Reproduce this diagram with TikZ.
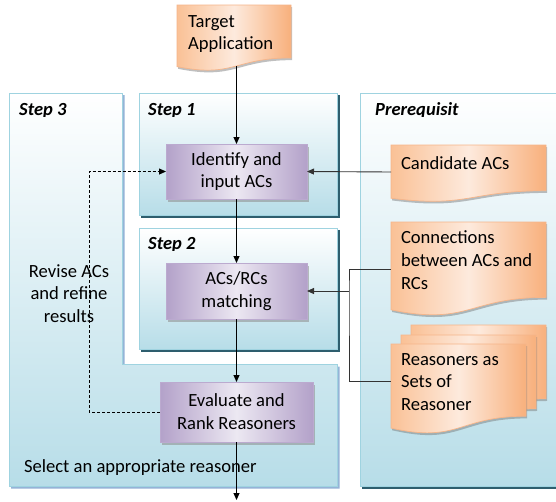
\documentclass[tikz,border=0pt]{standalone}
\usepackage{fontspec}
\setmainfont{Carlito}
\usetikzlibrary{arrows.meta,shadows}
\definecolor{pblue}{HTML}{B7DDE8}
\definecolor{pbord}{HTML}{9FD3E0}
\definecolor{tealdark}{HTML}{2E5E6E}
\definecolor{s3shadow}{HTML}{95B3D7}
\definecolor{purpdark}{HTML}{B3A1C9}
\definecolor{purplight}{HTML}{ECE8F2}
\definecolor{purpbord}{HTML}{BBAACF}
\definecolor{ordark}{HTML}{F8B07C}
\definecolor{ordarkb}{HTML}{FAC196}
\definecolor{orlight}{HTML}{FDEADD}
\definecolor{orbord}{HTML}{F6B58A}
\newcommand\mydoc[5][]{%
  \pgfmathsetmacro\dxa{#2+#4}\pgfmathsetmacro\dxm{#2+0.5*#4}%
  \pgfmathsetmacro\dya{#3+0.802*#5}\pgfmathsetmacro\dyb{#3+1.1075*#5}%
  \pgfmathsetmacro\dyc{#3+0.934*#5}%
  \path[#1] (#2,#3) -- (\dxa,#3) -- (\dxa,\dya) .. controls (\dxm,\dya) and (\dxm,\dyb) .. (#2,\dyc) -- cycle;}
\tikzset{
  txt/.style={font=\fontsize{18.6}{22.8}\selectfont, inner sep=0pt, outer sep=0pt},
  lbl/.style={font=\fontsize{18.5}{22}\selectfont\bfseries\itshape, inner sep=0pt, anchor=base west},
  proc/.style={txt, align=center, draw=purpbord, line width=0.8pt, shading angle=45,
    left color=purpdark, right color=purpdark, middle color=purplight,
    drop shadow={shadow xshift=2pt, shadow yshift=-2.5pt, fill=black!45, opacity=0.55}},
  docfill/.style={draw=orbord, line width=0.7pt, shading angle=45,
    left color=ordarkb, right color=ordark, middle color=orlight},
  docshadow/.style={fill=black!55, opacity=0.45, shift={(1.2,2.2)}},
  ghost/.style={inner sep=0pt, outer sep=0pt, minimum width=#1, anchor=north west},
  panel/.style={top color=white, bottom color=pblue, draw=pbord, line width=0.8pt},
  arr/.style={-{Triangle[length=7pt,width=6pt]}, line width=0.9pt},
  conn/.style={line width=0.9pt, draw=black!80}
}
\begin{document}
\begin{tikzpicture}[x=1pt,y=-1pt]
\fill[white] (0,0) rectangle (556,501);
\useasboundingbox (0,0) rectangle (556,501);

% ---------- panels ----------
\fill[s3shadow] (11,95) -- (124.5,95) -- (124.5,366.5) -- (339.5,366.5) -- (339.5,488.5) -- (11,488.5) -- cycle;
\shadedraw[panel] (9,93) -- (122,93) -- (122,364) -- (337,364) -- (337,486) -- (9,486) -- cycle;

\fill[tealdark] (141,95) rectangle (339.5,217.5);
\shadedraw[panel] (139,93) rectangle (337,215);
\fill[tealdark] (141,230) rectangle (339.5,351.5);
\shadedraw[panel] (139,228) rectangle (337,349);
\fill[tealdark] (362,95) rectangle (560,488.5);
\shadedraw[panel] (360,93) rectangle (560,486);

\begin{scope}
  \clip (0,93) rectangle (556,116.3);
  \node[lbl] (l3) at (19,115) {Step 3};
  \node[lbl] (l1) at (148,115) {Step 1};
  \node[lbl] (lp) at (375,115) {Prerequisit};
\end{scope}
\begin{scope}
  \clip (0,228) rectangle (556,250.8);
  \node[lbl] (l2) at (148,249.5) {Step 2};
\end{scope}

% ---------- documents ----------
\mydoc[docshadow]{177}{5}{114}{66}
\mydoc[docfill]{177}{5}{114}{66}
\node[txt, align=left, anchor=west] (ttgt) at (188,34) {Target\\Application};
\coordinate (tgt) at (236.5,66);

\mydoc[docshadow]{391}{145}{155}{57}
\mydoc[docfill]{391}{145}{155}{57}
\node[txt, anchor=west] (tcand) at (401,163) {Candidate ACs};
\node[ghost=155, minimum height=54] (cand) at (391,145) {};

\mydoc[docshadow]{391}{222}{155}{94}
\mydoc[docfill]{391}{222}{155}{94}
\node[txt, align=left, anchor=west] (tconn) at (401,260) {Connections\\between ACs and\\RCs};
\node[ghost=155, minimum height=94] (conn) at (391,222) {};

\mydoc[docshadow]{411}{325}{135}{92}
\mydoc[docfill]{411}{325}{135}{92}
\mydoc[docshadow]{401}{335}{135}{92}
\mydoc[docfill]{401}{335}{135}{92}
\mydoc[docshadow]{391}{344}{135}{90}
\mydoc[docfill]{391}{344}{135}{90}
\node[txt, align=left, anchor=west] (treas) at (401,382) {Reasoners as\\Sets of\\Reasoner};
\node[ghost=135, minimum height=74] (reas) at (391,344) {};

% ---------- process boxes ----------
\node[proc, minimum width=141, minimum height=55] (ident) at (236.5,171.5) {Identify and\\input ACs};
\node[proc, minimum width=141, minimum height=56] (match) at (236.5,291) {ACs/RCs\\matching};
\node[proc, minimum width=153, minimum height=60] (eval) at (236.5,412) {Evaluate and\\Rank Reasoners};

% ---------- texts ----------
\node[txt, align=center] (trev) at (69,293.5) {Revise ACs\\and refine\\results};
\node[txt, anchor=base west] (tsel) at (24,472) {Select an appropriate reasoner};

% ---------- connectors ----------
\coordinate (outp) at (236.5,500);
\coordinate (brk) at (349,291);
\coordinate (dl) at (89,300);
\draw[arr] (tgt) -- (ident.north);
\draw[arr] (ident.south) -- (match.north);
\draw[arr] (match.south) -- (eval.north);
\draw[arr] (eval.south) -- (outp);
\draw[arr, draw=black!80] (cand.west) -- (ident.east);
\draw[conn] (conn.west) -| (brk) |- (reas.west);
\draw[arr, draw=black!80] (brk) -- (match.east);
\draw[arr, dashed, line width=0.8pt, dash pattern=on 3pt off 2pt] (eval.west) -| (dl) |- (ident.west);
\end{tikzpicture}
\end{document}
